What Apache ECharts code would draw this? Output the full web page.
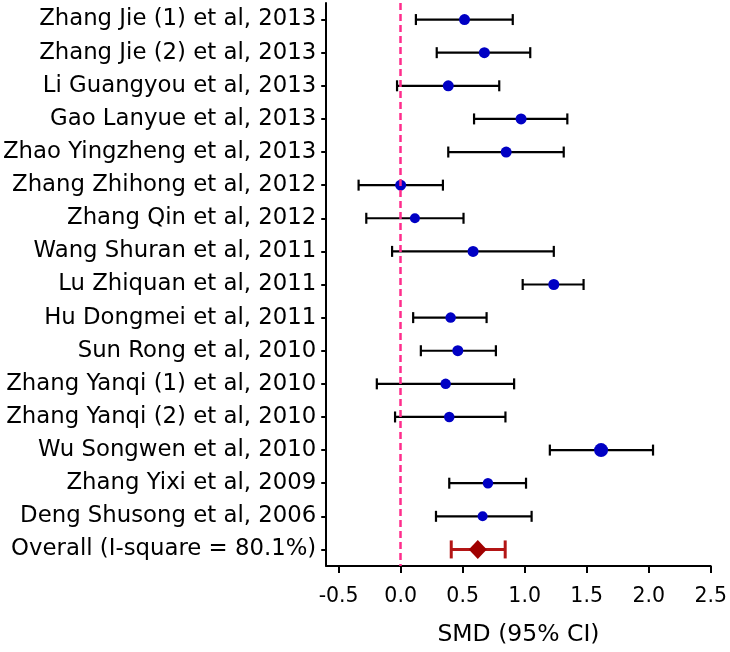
<!DOCTYPE html>
<html>
<head>
<meta charset="utf-8">
<script src="https://cdn.jsdelivr.net/npm/echarts@6/dist/echarts.min.js"></script>
<style>
html,body{margin:0;padding:0;background:#fff;}
#chart{width:730px;height:652px;}
</style>
</head>
<body>
<div id="chart"></div>
<script>
// ---- data ----
const studies = [
  "Zhang Jie (1) et al, 2013",
  "Zhang Jie (2) et al, 2013",
  "Li Guangyou et al, 2013",
  "Gao Lanyue et al, 2013",
  "Zhao Yingzheng et al, 2013",
  "Zhang Zhihong et al, 2012",
  "Zhang Qin et al, 2012",
  "Wang Shuran et al, 2011",
  "Lu Zhiquan et al, 2011",
  "Hu Dongmei et al, 2011",
  "Sun Rong et al, 2010",
  "Zhang Yanqi (1) et al, 2010",
  "Zhang Yanqi (2) et al, 2010",
  "Wu Songwen et al, 2010",
  "Zhang Yixi et al, 2009",
  "Deng Shusong et al, 2006",
  "Overall (I-square = 80.1%)"
];
const smd   = [0.515, 0.675, 0.384, 0.971, 0.851, 0.000, 0.115, 0.584, 1.235, 0.403, 0.461, 0.363, 0.392, 1.616, 0.704, 0.661, 0.622];
const lower = [0.123, 0.291, -0.029, 0.592, 0.384, -0.339, -0.277, -0.069, 0.984, 0.101, 0.163, -0.192, -0.045, 1.203, 0.392, 0.285, 0.408];
const upper = [0.904, 1.045, 0.795, 1.344, 1.315, 0.341, 0.507, 1.235, 1.475, 0.693, 0.768, 0.915, 0.845, 2.035, 1.011, 1.056, 0.843];
const xTicks = [-0.5, 0.0, 0.5, 1.0, 1.5, 2.0, 2.5];
const xTitle = "SMD (95% CI)";

// ---- style ----
const dotSizes = [11, 11, 11, 11, 11, 11, 10, 11, 11, 10.5, 11, 10.5, 10.5, 14, 10.5, 10];
const FONT = "DejaVu Sans";
const nStudies = studies.length - 1;

const studyBars = [], studyDots = [];
for (let i = 0; i < nStudies; i++) {
  studyBars.push([lower[i], upper[i], i]);
  studyDots.push({ value: [smd[i], i], symbolSize: dotSizes[i] });
}
const ov = nStudies;

function barRenderer(capH, lw, color) {
  return function (params, api) {
    const idx = api.value(2);
    const a = api.coord([api.value(0), idx]);
    const b = api.coord([api.value(1), idx]);
    const st = { stroke: color, lineWidth: lw, fill: null };
    return {
      type: 'group',
      children: [
        { type: 'line', shape: { x1: a[0], y1: a[1], x2: b[0], y2: b[1] }, style: st },
        { type: 'line', shape: { x1: a[0], y1: a[1] - capH / 2, x2: a[0], y2: a[1] + capH / 2 }, style: st },
        { type: 'line', shape: { x1: b[0], y1: b[1] - capH / 2, x2: b[0], y2: b[1] + capH / 2 }, style: st }
      ]
    };
  };
}

const chart = echarts.init(document.getElementById('chart'), null, { renderer: 'canvas' });
chart.setOption({
  animation: false,
  backgroundColor: '#ffffff',
  grid: { left: 323, right: 19, top: 3, bottom: 85, containLabel: false },
  xAxis: {
    type: 'value',
    min: -0.6,
    max: 2.5,
    splitLine: { show: false },
    axisLine: { show: true, onZero: false, lineStyle: { color: '#000', width: 2 } },
    axisTick: { show: true, customValues: xTicks, length: 7, lineStyle: { color: '#000', width: 2 } },
    axisLabel: {
      customValues: xTicks, margin: 20, color: '#000', fontFamily: FONT, fontSize: 20.5,
      formatter: v => v.toFixed(1)
    },
    name: xTitle,
    nameLocation: 'middle',
    nameGap: 57,
    nameTextStyle: { color: '#000', fontFamily: FONT, fontSize: 23.5 }
  },
  yAxis: {
    type: 'category',
    inverse: true,
    data: studies,
    axisLine: { show: true, onZero: false, lineStyle: { color: '#000', width: 2 } },
    axisTick: { show: true, alignWithLabel: true, length: 5, lineStyle: { color: '#000', width: 2 } },
    axisLabel: { margin: 10, color: '#000', fontFamily: FONT, fontSize: 22.8, interval: 0 },
    splitLine: { show: false }
  },
  series: [
    {
      type: 'custom',
      name: 'studyBars',
      renderItem: barRenderer(11, 2.2, '#000000'),
      encode: { x: [0, 1], y: 2 },
      data: studyBars,
      z: 2
    },
    {
      type: 'custom',
      name: 'overallBar',
      renderItem: barRenderer(18, 3, '#b31515'),
      encode: { x: [0, 1], y: 2 },
      data: [[lower[ov], upper[ov], ov]],
      z: 2
    },
    {
      type: 'scatter',
      name: 'nullLine',
      data: [],
      z: 3,
      markLine: {
        silent: true,
        symbol: ['none', 'none'],
        label: { show: false },
        lineStyle: { color: '#ff2d8c', width: 2.5, type: [7, 4] },
        data: [{ xAxis: 0 }]
      }
    },
    {
      type: 'scatter',
      name: 'studyDots',
      symbol: 'circle',
      itemStyle: { color: '#0000c4', opacity: 1 },
      data: studyDots,
      z: 4
    },
    {
      type: 'scatter',
      name: 'overallDot',
      symbol: 'diamond',
      symbolSize: [18, 19],
      itemStyle: { color: '#a00000', opacity: 1 },
      data: [[smd[ov], ov]],
      z: 4
    }
  ]
});
</script>
</body>
</html>
